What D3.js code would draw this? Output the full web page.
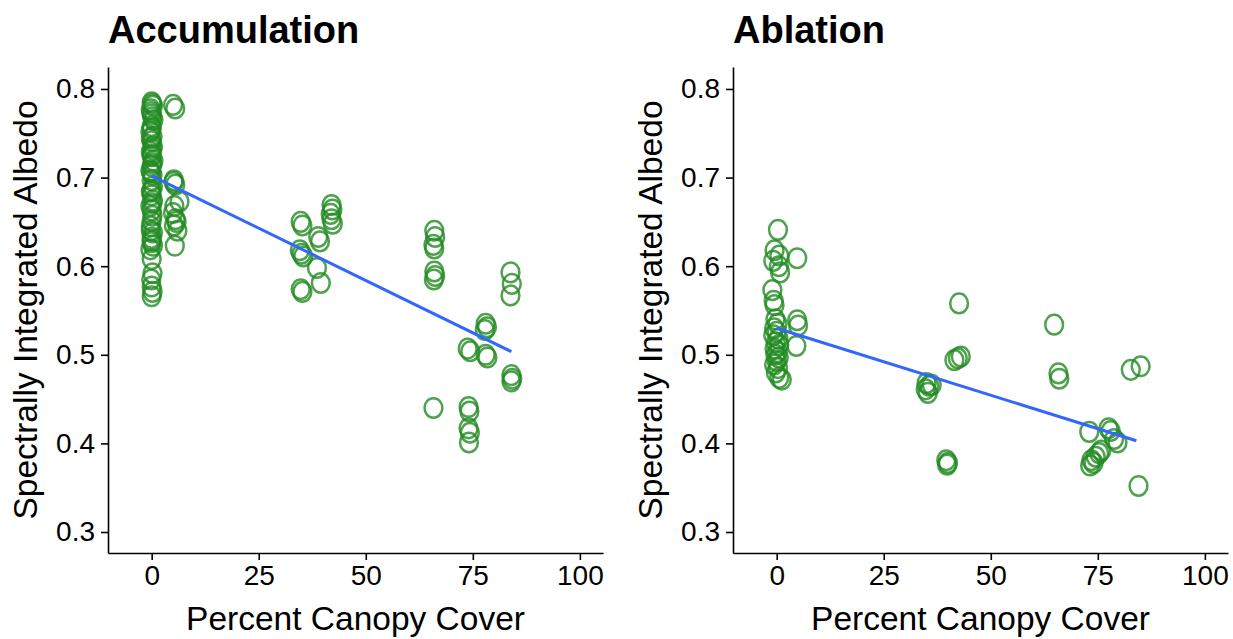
<!DOCTYPE html>
<html>
<head>
<meta charset="utf-8">
<script src="https://cdn.jsdelivr.net/npm/d3@7/dist/d3.min.js"></script>
<style>
  html, body { margin: 0; padding: 0; background: #fff; }
  svg { display: block; font-family: "Liberation Sans", Arial, sans-serif; }
</style>
</head>
<body>
<svg id="chart" width="1233" height="639"></svg>
<script>
// Accumulation season: percent canopy cover vs. spectrally integrated albedo
const accumCover = [
  0, 0.3, -0.2, 0, 0.4, 0, -0.3, 0.2, 0, 0.3, -0.2, 0, 0.4, 0, -0.3, 0.2, 0, 0.3, -0.2, 0,
  0.3, -0.3, 0, 0.2, 0, -0.2, 0.3, 0, 0, 0.3, -0.3, 0, 0.2, -0.1, 0, 0.2, 0,
  0.1, -0.1, 0.2, 0, -0.2, 0.1, 0, 0.2, -0.1, 0, 0.1, -0.2, 0,
  5, 5.5, 5.2, 5.5, 6.5, 5.3, 5, 5.6, 5.2, 6, 5.4, 5.1, 5.8,
  34.8, 35.2, 34.6, 35, 35.4, 34.8, 35.2,
  38.9, 39.3, 38.6, 39.5,
  42, 42.2, 41.8, 42, 42.3,
  66, 66.2, 65.8, 66, 66, 66.2, 65.9, 65.8,
  73.8, 74.4, 74, 74.2, 74, 74.3, 74.1,
  78, 78.3, 77.8, 78, 78.4,
  83.8, 84.1, 83.8, 84, 84.2, 84
];
const accumAlbedo = [
  0.785, 0.781, 0.777, 0.771, 0.765, 0.758, 0.752, 0.746, 0.741, 0.735, 0.729, 0.724, 0.719, 0.713, 0.708, 0.703, 0.697, 0.690, 0.684, 0.680,
  0.674, 0.668, 0.663, 0.657, 0.651, 0.645, 0.638, 0.632, 0.627, 0.623, 0.619, 0.608, 0.592, 0.585, 0.577, 0.571, 0.566,
  0.783, 0.774, 0.768, 0.755, 0.744, 0.732, 0.726, 0.716, 0.706, 0.686, 0.671, 0.640, 0.629,
  0.782, 0.778, 0.697, 0.692, 0.673, 0.668, 0.660, 0.653, 0.646, 0.640, 0.623, 0.695, 0.650,
  0.650, 0.646, 0.618, 0.614, 0.611, 0.574, 0.571,
  0.633, 0.628, 0.598, 0.581,
  0.669, 0.664, 0.659, 0.653, 0.648,
  0.640, 0.633, 0.624, 0.620, 0.594, 0.589, 0.585, 0.440,
  0.507, 0.504, 0.441, 0.436, 0.417, 0.412, 0.401,
  0.535, 0.531, 0.528, 0.500, 0.497,
  0.593, 0.580, 0.567, 0.477, 0.473, 0.470
];
// Linear fit endpoints (cover, albedo)
const accumFitCover = [0, 84];
const accumFitAlbedo = [0.702, 0.5035];

// Ablation season
const ablationCover = [
  0.3, -0.5, 0.6, -0.8, 0.5, 0.8, -1, -0.7, -0.5, -0.3, 0.2, -0.6, 0, -0.8, 0.4, -0.2, 0.6, -0.5, 0.2, -0.3, 0.5, 0, -0.6, 0.3, -0.2, 0.6, 1.2,
  4.8, 4.8, 5, 4.6,
  35, 35.6, 34.8, 35.3, 36.2,
  39.6, 40, 39.8,
  41.5, 42.3, 43, 42.6,
  64.8, 65.8, 66,
  73, 77.5, 78, 78.8, 79.6, 73.5, 74, 74.5, 75.3, 75.8, 73.2,
  82.7, 85, 84.5
];
const ablationAlbedo = [
  0.641, 0.618, 0.612, 0.606, 0.600, 0.593, 0.573, 0.561, 0.556, 0.540, 0.535, 0.530, 0.526, 0.522, 0.518, 0.514, 0.511, 0.507, 0.503, 0.500, 0.497, 0.493, 0.489, 0.485, 0.480, 0.474, 0.472,
  0.609, 0.539, 0.533, 0.510,
  0.468, 0.465, 0.461, 0.457, 0.466,
  0.381, 0.378, 0.376,
  0.494, 0.496, 0.498, 0.558,
  0.534, 0.479, 0.473,
  0.413, 0.417, 0.414, 0.405, 0.401, 0.381, 0.378, 0.385, 0.389, 0.392, 0.375,
  0.483, 0.487, 0.352
];
const ablationFitCover = [0, 84];
const ablationFitAlbedo = [0.530, 0.403];

// Axis ticks
const xTicks = [0, 25, 50, 75, 100];
const yTicks = [0.3, 0.4, 0.5, 0.6, 0.7, 0.8];

const svg = d3.select("#chart");

function drawPanel(opts) {
  const { left, right, top, bottom, title, cover, albedo, fitCover, fitAlbedo } = opts;

  const x = d3.scaleLinear().domain([-10.2, 105.4]).range([left, right]);
  const y = d3.scaleLinear().domain([0.2763, 0.8248]).range([bottom, top]);

  const g = svg.append("g");

  // Points: open rings
  const pts = cover.map((c, i) => ({ c, a: albedo[i] }));
  g.append("g")
    .selectAll("ellipse")
    .data(pts)
    .join("ellipse")
    .attr("cx", d => x(d.c))
    .attr("cy", d => y(d.a))
    .attr("rx", 8.9)
    .attr("ry", 9.8)
    .attr("fill", "none")
    .attr("stroke", "#228B22")
    .attr("stroke-opacity", 0.8)
    .attr("stroke-width", 2.5);

  // Regression line
  const fit = fitCover.map((c, i) => [c, fitAlbedo[i]]);
  g.append("path")
    .datum(fit)
    .attr("fill", "none")
    .attr("stroke", "#3366FF")
    .attr("stroke-width", 3)
    .attr("d", d3.line().x(d => x(d[0])).y(d => y(d[1])));

  // Axes
  const xAxis = g.append("g")
    .attr("transform", `translate(0,${bottom})`)
    .call(d3.axisBottom(x).tickValues(xTicks).tickSize(7).tickPadding(5).tickSizeOuter(0));
  const yAxis = g.append("g")
    .attr("transform", `translate(${left},0)`)
    .call(d3.axisLeft(y).tickValues(yTicks).tickFormat(d3.format(".1f")).tickSize(7).tickPadding(6).tickSizeOuter(0));

  [xAxis, yAxis].forEach(ax => {
    ax.select(".domain").attr("stroke", "#000").attr("stroke-width", 1.6);
    ax.selectAll(".tick line").attr("stroke", "#000").attr("stroke-width", 1.6);
    ax.selectAll(".tick text")
      .attr("fill", "#000")
      .style("font-size", "28px")
      .style("font-family", "'Liberation Sans', Arial, sans-serif");
  });

  // Axis titles
  g.append("text")
    .attr("x", (left + right) / 2)
    .attr("y", 630)
    .attr("text-anchor", "middle")
    .style("font-size", "33.5px")
    .text("Percent Canopy Cover");

  g.append("text")
    .attr("transform", `translate(${left - 71},${(top + bottom) / 2}) rotate(-90)`)
    .attr("text-anchor", "middle")
    .style("font-size", "33.5px")
    .text("Spectrally Integrated Albedo");

  // Panel title
  g.append("text")
    .attr("x", left)
    .attr("y", 43)
    .style("font-size", "38px")
    .style("font-weight", "bold")
    .text(title);
}

drawPanel({
  left: 108, right: 603, top: 67, bottom: 553,
  title: "Accumulation",
  cover: accumCover, albedo: accumAlbedo,
  fitCover: accumFitCover, fitAlbedo: accumFitAlbedo
});

drawPanel({
  left: 733, right: 1228, top: 67, bottom: 553,
  title: "Ablation",
  cover: ablationCover, albedo: ablationAlbedo,
  fitCover: ablationFitCover, fitAlbedo: ablationFitAlbedo
});
</script>
</body>
</html>
